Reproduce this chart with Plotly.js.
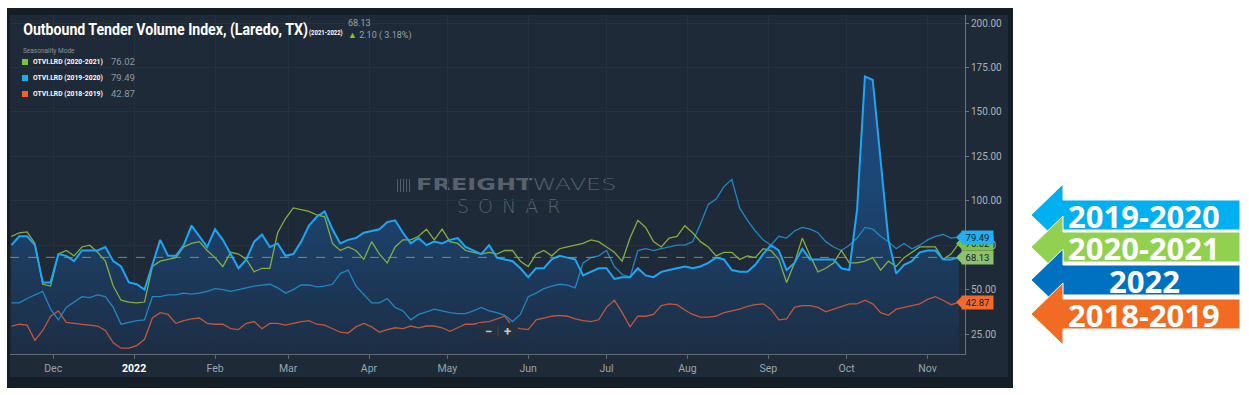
<!DOCTYPE html>
<html><head><meta charset="utf-8">
<script src="https://cdn.plot.ly/plotly-3.0.1.min.js"></script>
<style>
html,body{margin:0;padding:0;background:#ffffff;width:1249px;height:395px;overflow:hidden;}
#panel{position:absolute;left:7px;top:8px;width:1006px;height:380px;background:#151d26;}
#inner{position:absolute;left:10px;top:15px;width:998px;height:362px;background:#1e2a37;}
#wmicon{position:absolute;left:397px;top:179px;width:14px;height:13px;
  background:repeating-linear-gradient(90deg,#56616d 0 1.5px,transparent 1.5px 3px);opacity:0.9;}
#wm1{position:absolute;left:416px;top:178px;white-space:nowrap;font-family:'DejaVu Sans',sans-serif;font-size:15px;line-height:15px;color:#56616d;transform:scaleX(1.6);transform-origin:0 0;}
#wm1 .b{font-weight:bold;}
#wm1 .l{font-weight:200;}
#wm2{position:absolute;left:457px;top:197px;white-space:nowrap;font-family:'DejaVu Sans',sans-serif;font-weight:200;font-size:19px;line-height:19px;color:#56616d;letter-spacing:9px;}
#chart{position:absolute;left:0;top:0;width:1249px;height:395px;}
</style>
</head>
<body>
<div id="panel"></div>
<div id="inner"></div>
<div id="wmicon"></div>
<div id="wm1"><span class="b">FREIGHT</span><span class="l">WAVES</span></div>
<div id="wm2">SONAR</div>
<div id="chart"></div>
<script>
// ---------------- DATA ----------------
const START_DATE = '2021-11-15';
const STEP_DAYS = 3;

// OTVI.LRD 2021-2022 (current season, filled)
const otvi2022 = [75,80,80,75,54,54,70,69,66,72,
  72,72,74,66,63,54,53,50,64,78,
  69,69,75,86,80,74,84,78,70,62,
  67,77,81,74,76,69,70,77,86,91,
  94,84,76,78,79,82,83,84,88,89,
  82,76,79,75,77,76,78,79,74,72,
  70,75,68,67,66,62,57,62,62,67,
  69,68,67,58,60,62,62,56,57,57,
  62,58,57,60,61,62,63,62,63,65,
  68,67,61,60,60,64,70,75,72,61,
  65,73,67,67,67,67,62,61,95,170,
  168,121,78,59,64,66,71,72,72,67,
  67,68.13];

// OTVI.LRD 2020-2021
const otvi2021 = [80,82,82.5,76,53,52,70,72,69,74,
  75,71,66,52,44,43,42.5,43,63,66,
  67,68,74,76,77,72,68,63,71,70,
  67,60,62,62,82,90,96,95,94,92,
  91,76,72,74,72,67,77,70,65,74,
  78,78,80,84,78,84,77,76,72,71,
  70,71,70,72,72,66,63,70,72,69,
  73,74,75,76,78,77,74,71,66,79,
  89,85,77,74,79,80,86,82,77,74,
  69,71,71,67,69,68,73,72,67,54,
  65,79,69,60,62,65,72,65,65,66,
  68,61,66,63,68,71,74,74,74,67,
  70,76.02];

// OTVI.LRD 2019-2020
const otvi2020 = [42.5,42.5,45,47,49,39,33,40,43,46,
  45.5,47,46,40,30.5,31.5,32.5,33,46,46,
  47,47,48,47.5,48,49,50.5,50,49,50,
  51,52,52.5,53,51,48,50,52.6,52.6,51.5,
  52,53,59,61,52,47,42.5,42.5,45,40,
  38,33,36,37.5,39,38,37,36.5,36.5,38,
  40,38,37,35.5,32,36,46,48,50.5,52,
  53,52.5,51,65,68,69,72,63,58.5,57,
  72,73,72,73,74,75,75,77,87,98,
  101,108,112,96,89,83,78,75,80,79,
  83,85,84,82,77,74,72,75,79,85,
  84,80,77,73,76,73,75,78,80,81,
  79,79.49];

// OTVI.LRD 2018-2019
const otvi2019 = [29.5,30.5,30,21.5,27,35,38,31.5,31,30.5,
  30,29.5,27,20,17,17,18.5,22,34,37,
  36,31,32.5,33.5,34,31,30.5,30.5,28,27.5,
  31,32,28,31,31,30,31,32,32.5,30.5,
  30,28,26,25.5,29,31,29,26,27.5,28.5,
  28,29.5,28.5,29.5,29.5,28.5,26.5,28.5,30.5,30.5,
  31.5,32,33.5,35,29,28,27.5,33,34,35,
  35.5,35,33.5,32.5,32,33,40,44,37,29,
  35,35,36,41,42,41.5,38.5,36,34.5,34.5,
  35,37,38,39,40.5,41.5,42,39,33,33.5,
  40,41,41,40,37.5,39,40.5,42,42,44,
  42,37,35.5,39,40,41,42,44.5,46,44,
  41.5,42.87];

const tickDates  = ['2021-12-01','2022-01-01','2022-02-01','2022-03-01','2022-04-01','2022-05-01',
                    '2022-06-01','2022-07-01','2022-08-01','2022-09-01','2022-10-01','2022-11-01'];
const tickLabels = ['Dec','2022','Feb','Mar','Apr','May','Jun','Jul','Aug','Sep','Oct','Nov'];
const yTickVals  = [25,50,75,100,125,150,175,200];

const chartTitle = 'Outbound Tender Volume Index, (Laredo, TX)';
const titleSeason = '(2021-2022)';
const seriesNames = ['OTVI.LRD (2020-2021)','OTVI.LRD (2019-2020)','OTVI.LRD (2018-2019)'];
const headerChange = [2.10, 3.18];
const arrowLabels = ['2019-2020','2020-2021','2022','2018-2019'];

// ---------------- GEOMETRY ----------------
const L=10, R=965, T=15, B=354, W=R-L, H=B-T;
const px = x => (x-L)/W;
const py = y => (B-y)/H;
const yRange=[13.74,204.6];
const vpp = (yRange[1]-yRange[0])/H;

const dates=[];
{const s=new Date(START_DATE+'T00:00:00Z').getTime();
 for(let i=0;i<otvi2022.length;i++){dates.push(new Date(s+i*STEP_DAYS*86400000).toISOString().slice(0,10));}}

const C = {main:'#1ea6f5', g:'#86ae3e', b:'#2087c2', o:'#c2573b'};
const last = a => a[a.length-1];

const traces = [
 {x:dates,y:otvi2022,mode:'lines',line:{width:0,color:'rgba(0,0,0,0)'},fill:'tozeroy',
  fillcolor:'rgba(27,62,100,0.85)',
  fillgradient:{type:'vertical',start:14,stop:110,colorscale:[[0,'rgba(28,46,70,0.9)'],[1,'rgba(28,74,124,0.9)']]},
  hoverinfo:'skip',showlegend:false},
 {x:dates,y:otvi2019,mode:'lines',line:{width:1.3,color:C.o},showlegend:false},
 {x:dates,y:otvi2020,mode:'lines',line:{width:1.3,color:C.b},showlegend:false},
 {x:dates,y:otvi2021,mode:'lines',line:{width:1.3,color:C.g},showlegend:false},
 {x:dates,y:otvi2022,mode:'lines',line:{width:2,color:C.main},showlegend:false}
];

const bold = "Roboto,sans-serif";
const shapes=[];
const ann=[];
const P = (o)=>Object.assign({xref:'paper',yref:'paper',xanchor:'left',yanchor:'middle',showarrow:false},o);

// current value dashed line
shapes.push({type:'line',xref:'paper',yref:'y',x0:0,x1:px(958),y0:last(otvi2022),y1:last(otvi2022),
  line:{color:'rgba(120,170,100,0.85)',width:1,dash:'dash'}});

// value tags
const tags=[[last(otvi2021),'#7dc142'],[last(otvi2020),'#22b0f2'],[last(otvi2022),'#8fc06f'],[last(otvi2019),'#f06a2c']];
tags.forEach(([v,c])=>{
  const d=6*vpp;
  shapes.push({type:'path',xref:'paper',yref:'y',path:`M ${px(956)},${v} L ${px(962)},${v+d} L ${px(962)},${v-d} Z`,fillcolor:c,line:{width:0}});
  ann.push({xref:'paper',yref:'y',x:px(961),y:v,xanchor:'left',yanchor:'middle',showarrow:false,
    text:v.toFixed(2),bgcolor:c,width:29,height:11,borderpad:1,font:{family:'Roboto',size:9.5,color:'#15212c'}});
});

// header
ann.push(P({x:px(21),y:py(29.5),text:'<b>'+chartTitle+'</b>',font:{family:bold,size:16,color:'#ffffff'}}));
ann.push(P({x:px(307),y:py(33),text:'<b>'+titleSeason+'</b>',font:{family:bold,size:7.5,color:'#ffffff'}}));
ann.push(P({x:px(346),y:py(23),text:last(otvi2022).toFixed(2),font:{family:'Roboto',size:9,color:'#9aa3ab'}}));
ann.push(P({x:px(346),y:py(35.5),
  text:'<span style="color:#7ec242">▲</span> '+headerChange[0].toFixed(2)+' ( '+headerChange[1].toFixed(2)+'%)',
  font:{family:'Roboto',size:9,color:'#9aa3ab'}}));
ann.push(P({x:px(21),y:py(51),text:'Seasonality Mode',font:{family:'Roboto',size:6.5,color:'#8b949d'}}));

const legRows=[[seriesNames[0],'#7dc142',last(otvi2021),62],[seriesNames[1],'#1eaaf0',last(otvi2020),78],[seriesNames[2],'#f2622b',last(otvi2019),94]];
legRows.forEach(([n,c,v,yc])=>{
  shapes.push({type:'rect',xref:'paper',yref:'paper',x0:px(22),x1:px(28),y0:py(yc-3),y1:py(yc+3),fillcolor:c,line:{width:0}});
  ann.push(P({x:px(30.5),y:py(yc),text:'<b>'+n+'</b>',font:{family:bold,size:8,color:'#ffffff'}}));
  ann.push(P({x:px(109),y:py(yc),text:v.toFixed(2),font:{family:'Roboto',size:9.5,color:'#8f98a1'}}));
});

// zoom control
shapes.push({type:'rect',xref:'paper',yref:'paper',x0:px(478),x1:px(518),y0:py(339),y1:py(323),fillcolor:'#233140',line:{width:0}});
shapes.push({type:'line',xref:'paper',yref:'paper',x0:px(498),x1:px(498),y0:py(336),y1:py(326),line:{color:'#3b4959',width:1}});
ann.push(P({x:px(488),y:py(331),xanchor:'center',text:'<b>−</b>',font:{family:'Roboto',size:13,color:'#c3cad1'}}));
ann.push(P({x:px(508),y:py(331),xanchor:'center',text:'<b>+</b>',font:{family:'Roboto',size:13,color:'#c3cad1'}}));

// right side arrows
const arrowCols=['#00b0f0','#92d050','#0070c0','#f26b22'];
const arrowY=[215,247,280,314];
arrowLabels.forEach((t,i)=>{
  const yc=arrowY[i];
  const p=`M ${px(1031)},${py(yc)} L ${px(1063)},${py(yc-31)} L ${px(1063)},${py(yc-15)} L ${px(1240)},${py(yc-15)} L ${px(1240)},${py(yc+15)} L ${px(1063)},${py(yc+15)} L ${px(1063)},${py(yc+31)} Z`;
  shapes.push({type:'path',xref:'paper',yref:'paper',path:p,fillcolor:arrowCols[i],line:{color:'#ffffff',width:1}});
  ann.push(P({x:px(1144),y:py(yc+1),xanchor:'center',
    text:'<b>'+t+'</b>',font:{family:"'Open Sans',sans-serif",size:31,color:'#ffffff'}}));
});

const tickText = tickLabels.map(t=> t==='2022' ? '<b><span style="color:#ffffff">2022</span></b>' : t);

const layout={
  width:1249,height:395,
  margin:{l:L,r:1249-R,t:T,b:395-B,pad:0},
  paper_bgcolor:'rgba(0,0,0,0)',plot_bgcolor:'rgba(0,0,0,0)',
  showlegend:false,
  xaxis:{type:'date',range:['2021-11-14 10:48','2022-11-15 08:24'],tickvals:tickDates,ticktext:tickText,
    showgrid:true,gridcolor:'#243140',gridwidth:1,showline:true,linecolor:'#5f6a75',linewidth:1,
    ticks:'outside',ticklen:4,tickcolor:'#5f6a75',tickfont:{family:'Roboto',size:10.5,color:'#9aa4ae'},
    zeroline:false,fixedrange:true},
  yaxis:{side:'right',range:yRange,tickvals:yTickVals,ticktext:yTickVals.map(v=>v.toFixed(2)),
    showgrid:true,gridcolor:'#243140',gridwidth:1,showline:true,linecolor:'#6d7783',linewidth:1,
    ticks:'outside',ticklen:3,tickcolor:'#6d7783',tickfont:{family:'Roboto',size:10,color:'#aab2ba'},
    zeroline:false,fixedrange:true},
  shapes:shapes,annotations:ann
};

// condensed look of the reference headline: squeeze these texts to their widths in the reference
const squeezeTargets = {};
squeezeTargets[chartTitle]=285; squeezeTargets[titleSeason]=34;
seriesNames.forEach(n=>squeezeTargets[n]=70);

Plotly.newPlot('chart',traces,layout,{displayModeBar:false,staticPlot:true}).then(()=>{
  document.querySelectorAll('#chart .annotation-text').forEach(el=>{
    const tw = squeezeTargets[el.textContent];
    if(!tw) return;
    const w = el.getBBox().width;
    if(w>0){
      el.style.transformBox='fill-box';
      el.style.transformOrigin='0% 50%';
      el.style.transform='scaleX('+(tw/w).toFixed(3)+')';
    }
  });
});
</script>
</body></html>
